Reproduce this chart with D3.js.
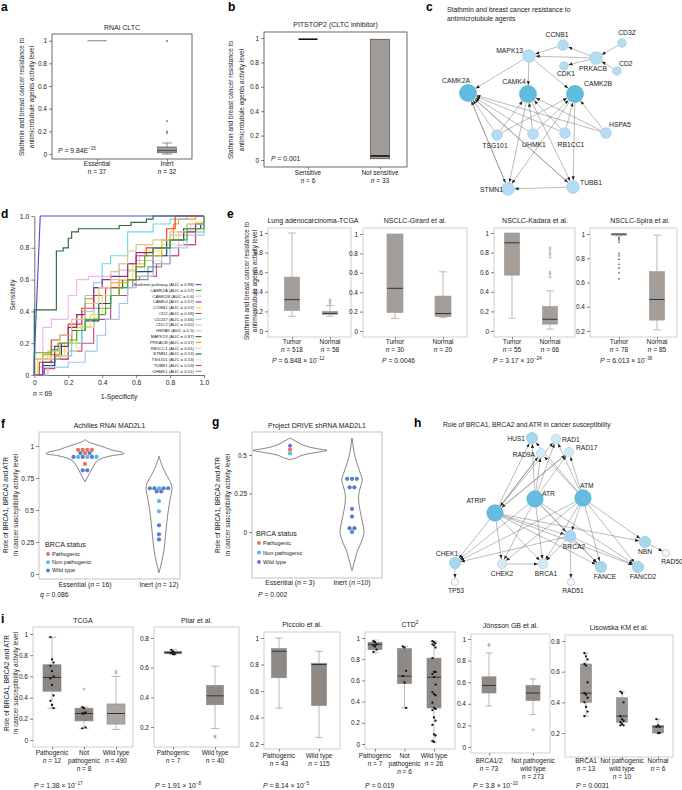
<!DOCTYPE html>
<html><head><meta charset="utf-8">
<script src="https://cdn.jsdelivr.net/npm/d3@7"></script>
<style>body{margin:0;background:#fff}svg{display:block}</style>
</head><body>
<script>
// ================= DATA =================
// Panel a
const aCats = ["Essential","Inert"];
const aLabels = [["Essential","*n* = 37"],["Inert","*n* = 32"]];
const aBoxes = [[1,1,1,1,1],[0.0,0.01,0.03,0.062,0.097]];
const aOutliers = [[],[0.997,0.29,0.2,0.185]];
const aTitle = "RNAi CLTC";
const aP = "*P* = 9.84E^{−15}";
// Panel b
const bCats = ["Sensitive","Not sensitive"];
const bLabels = [["Sensitive","*n* = 6"],["Not sensitive","*n* = 33"]];
const bBoxes = [[0.99,0.99,0.99,0.99,0.99],[0.01,0.01,0.033,0.99,0.99]];
const bTitle = "PITSTOP2 (CLTC inhibitor)";
const bP = "*P* = 0.001";
const stathminYLabel = ["Stathmin and breast cancer resistance to","antimicrotubule agents activity level"];
// Panel c network
const cTitle = ["Stathmin and breast cancer resistance to","antimicrotubule agents"];
const cNodes = ["CCNB1","CD3Z","MAPK13","PRKACB","CDK1","CD2","CAMK2A","CAMK4","CAMK2B","HSPA5","TSG101","UHMK1","RB1CC1","STMN1","TUBB1"];
const cEdges = [["CD3Z","PRKACB"],["CD2","PRKACB"],["PRKACB","CCNB1"],["PRKACB","CDK1"],["CCNB1","MAPK13"],["PRKACB","MAPK13"],
 ["MAPK13","CAMK2A"],["MAPK13","CAMK4"],["MAPK13","CAMK2B"],
 ["TSG101","CAMK2A"],["TSG101","CAMK4"],["TSG101","CAMK2B"],["UHMK1","CAMK2A"],["UHMK1","CAMK4"],["UHMK1","CAMK2B"],
 ["RB1CC1","CAMK2A"],["RB1CC1","CAMK4"],["RB1CC1","CAMK2B"],["HSPA5","CAMK2A"],["HSPA5","CAMK4"],["HSPA5","CAMK2B"],
 ["CAMK2A","STMN1"],["CAMK2A","TUBB1"],["CAMK4","STMN1"],["CAMK4","TUBB1"],["CAMK2B","STMN1"],["CAMK2B","TUBB1"],
 ["TUBB1","STMN1"],["STMN1","CAMK2A"],["TUBB1","CAMK2A"]];
// Panel d ROC
const rocNames = ["Stathmin pathway","CAMK2A","CAMK2B","CAMK4","CCNB1","CD2","CD247","CDC2","HSPA5","MAPK13","PRKACB","RB1CC1","STMN1","TSG101","TUBB1","UHMK1"];
const rocAUC = ["0.98","0.57","0.6","0.57","0.57","0.58","0.66","0.62","0.5","0.87","0.57","0.61","0.53","0.54","0.53","0.51"];
const rocCurves = [
 [[0,0],[0,0.1],[0.035,1],[1,1]],
 [[0,0],[0,0.14],[0.1,0.16],[0.14,0.2],[0.2,0.22],[0.25,0.28],[0.3,0.35],[0.38,0.38],[0.42,0.42],[0.45,0.5],[0.5,0.55],[0.55,0.6],[0.6,0.68],[0.65,0.75],[0.7,0.8],[0.8,0.85],[0.9,0.92],[1,1]],
 [[0,0],[0,0.1],[0.08,0.15],[0.15,0.25],[0.22,0.35],[0.3,0.45],[0.38,0.55],[0.45,0.65],[0.5,0.7],[0.55,0.78],[0.6,0.82],[0.7,0.85],[0.8,0.9],[0.9,0.95],[1,1]],
 [[0,0],[0.05,0.08],[0.12,0.18],[0.2,0.3],[0.25,0.38],[0.3,0.45],[0.35,0.55],[0.4,0.6],[0.45,0.62],[0.55,0.7],[0.6,0.77],[0.7,0.8],[0.8,0.85],[0.88,0.9],[0.95,0.95],[1,1]],
 [[0,0],[0.02,0.1],[0.1,0.12],[0.18,0.2],[0.25,0.3],[0.33,0.38],[0.4,0.5],[0.5,0.6],[0.58,0.7],[0.65,0.78],[0.75,0.85],[0.85,0.9],[0.95,0.96],[1,1]],
 [[0,0],[0.03,0.08],[0.1,0.22],[0.15,0.25],[0.2,0.32],[0.28,0.42],[0.35,0.5],[0.42,0.55],[0.5,0.6],[0.6,0.75],[0.66,0.8],[0.75,0.85],[0.78,0.92],[0.83,1.0],[1,1]],
 [[0,0],[0.05,0.1],[0.15,0.12],[0.22,0.2],[0.28,0.3],[0.3,0.5],[0.35,0.58],[0.4,0.7],[0.45,0.75],[0.55,0.9],[0.7,0.95],[0.8,0.98],[0.9,1],[1,1]],
 [[0,0],[0.02,0.05],[0.1,0.18],[0.2,0.3],[0.28,0.4],[0.35,0.5],[0.45,0.6],[0.5,0.66],[0.6,0.72],[0.7,0.8],[0.8,0.88],[0.9,0.95],[1,1]],
 [[0,0],[0.08,0.05],[0.2,0.08],[0.3,0.15],[0.37,0.25],[0.42,0.35],[0.5,0.45],[0.55,0.55],[0.6,0.62],[0.7,0.7],[0.8,0.8],[0.9,0.88],[1,1]],
 [[0,0],[0,0.41],[0.13,0.78],[0.17,0.8],[0.2,0.86],[0.22,0.9],[0.26,0.92],[0.5,0.94],[0.57,0.96],[0.66,0.98],[0.7,1.0],[1,1]],
 [[0,0],[0,0.1],[0.05,0.13],[0.15,0.2],[0.22,0.3],[0.25,0.38],[0.3,0.48],[0.35,0.55],[0.45,0.58],[0.55,0.7],[0.65,0.75],[0.75,0.85],[0.82,0.95],[0.85,0.98],[0.95,1],[1,1]],
 [[0,0],[0,0.1],[0.05,0.3],[0.1,0.35],[0.2,0.5],[0.25,0.6],[0.32,0.62],[0.5,0.7],[0.62,0.75],[0.75,0.8],[0.85,0.9],[0.92,0.95],[1,1]],
 [[0,0],[0.05,0.06],[0.12,0.12],[0.16,0.2],[0.22,0.28],[0.3,0.34],[0.38,0.45],[0.45,0.55],[0.52,0.6],[0.6,0.65],[0.7,0.75],[0.78,0.85],[0.88,0.92],[0.98,0.95],[1,1]],
 [[0,0],[0.05,0.12],[0.12,0.15],[0.25,0.3],[0.35,0.45],[0.45,0.55],[0.55,0.65],[0.65,0.72],[0.75,0.82],[0.88,0.9],[1,1]],
 [[0,0],[0.06,0.04],[0.12,0.1],[0.2,0.15],[0.28,0.2],[0.35,0.35],[0.45,0.5],[0.55,0.6],[0.62,0.62],[0.72,0.7],[0.8,0.75],[0.85,0.82],[0.95,0.95],[1,1]],
 [[0,0],[0.05,0.08],[0.12,0.1],[0.2,0.2],[0.28,0.3],[0.35,0.42],[0.42,0.5],[0.5,0.55],[0.58,0.6],[0.67,0.68],[0.75,0.75],[0.85,0.82],[0.95,0.9],[1,0.95]]
];
const rocTicks = [0,0.2,0.4,0.6,0.8,1];
const rocN = "*n* = 69";
// Panel e
const eTitles = ["Lung adenocarcinoma-TCGA","NSCLC-Girard et al.","NSCLC-Kadara et al.","NSCLC-Spira et al."];
const eCats = ["Tumor","Normal"];
const eN = [[518,58],[30,20],[55,66],[78,85]];
const eBoxes = [
 [[0.15,0.21,0.32,0.55,1.0],[0.15,0.17,0.18,0.2,0.26]],
 [[0.13,0.19,0.44,1.0,1.0],[0.14,0.15,0.18,0.36,0.61]],
 [[0.13,0.57,0.9,1.0,1.0],[0.02,0.07,0.12,0.25,0.41]],
 [[0.985,0.99,1.0,1.0,1.0],[0.21,0.29,0.46,0.69,0.99]]];
const eOutliers = [
 [[],[0.28,0.3,0.32]],
 [[],[]],
 [[],[0.55,0.58,0.6,0.75,0.78,0.8,0.83,0.85]],
 [[0.97,0.96,0.95,0.93,0.84,0.82,0.79,0.75,0.72,0.68,0.63],[]]];
const eP = ["*P* = 6.848 × 10^{−12}","*P* = 0.0046","*P* = 3.17 × 10^{−24}","*P* = 6.013 × 10^{−36}"];
// Panels f, g (violins)
const brcaStatus = ["Pathogenic","Non pathogenic","Wild type"];
const brcaYLabel = ["Role of BRCA1, BRCA2 and ATR","in cancer susceptibility activity level"];
const fCats = ["Essential","Inert"];
const fLabels = ["Essential (*n* = 16)","Inert (*n* = 12)"];
const fDensity = [
 [[0.72,0],[0.76,0.07],[0.8,0.14],[0.85,0.23],[0.88,0.3],[0.905,0.45],[0.925,0.7],[0.94,1],[0.955,0.9],[0.97,0.67],[0.99,0.5],[1.01,0.3],[1.03,0.1],[1.05,0]],
 [[0.01,0],[0.05,0.1],[0.1,0.22],[0.2,0.4],[0.3,0.5],[0.4,0.6],[0.5,0.72],[0.58,0.85],[0.64,0.97],[0.67,1],[0.71,0.92],[0.76,0.65],[0.82,0.35],[0.87,0.15],[0.92,0]]];
const fPoints = [
 [[0.97,"P"],[0.97,"P"],[0.97,"P"],[0.97,"P"],[0.945,"W"],[0.945,"P"],[0.945,"W"],[0.915,"W"],[0.915,"N"],[0.915,"W"],[0.915,"N"],[0.915,"W"],[0.86,"P"],[0.81,"W"],[0.81,"W"],[0.915,"N"]],
 [[0.67,"W"],[0.67,"W"],[0.67,"N"],[0.67,"W"],[0.67,"W"],[0.645,"W"],[0.645,"W"],[0.57,"N"],[0.49,"N"],[0.38,"W"],[0.31,"W"],[0.27,"W"]]];
const fTitle = "Achilles RNAi MAD2L1";
const fStat = "*q* = 0.086";
const gCats = ["Essential","Inert"];
const gLabels = ["Essential (*n* = 3)","Inert (*n* =10)"];
const gDensity = [
 [[0.47,0],[0.48,0.15],[0.5,0.35],[0.52,0.8],[0.53,1],[0.54,0.75],[0.56,0.4],[0.58,0.22],[0.6,0.08],[0.61,0]],
 [[-0.25,0],[-0.2,0.18],[-0.13,0.42],[-0.05,0.85],[0,1],[0.09,0.8],[0.17,0.6],[0.24,0.55],[0.29,0.7],[0.34,0.85],[0.38,0.7],[0.45,0.4],[0.52,0.17],[0.61,0]]];
const gPoints = [
 [[0.56,"W"],[0.535,"P"],[0.51,"N"]],
 [[0.345,"W"],[0.345,"W"],[0.345,"W"],[0.29,"W"],[0.29,"W"],[0.15,"W"],[0.1,"W"],[0.025,"W"],[0.025,"W"],[0.0,"W"]]];
const gTitle = "Project DRIVE shRNA MAD2L1";
const gStat = "*P* = 0.002";
// Panel h network
const hTitle = "Role of BRCA1, BRCA2 and ATR in cancer susceptibility";
const hNodes = ["HUS1","RAD1","RAD9A","RAD17","ATR","ATM","ATRIP","BRCA2","NBN","RAD50","CHEK1","TP53","CHEK2","BRCA1","FANCE","FANCD2","RAD51"];
const hEdges = [["ATRIP","HUS1"],["ATRIP","RAD1"],["ATRIP","RAD9A"],["ATRIP","RAD17"],["ATR","HUS1"],["ATR","RAD1"],["ATR","RAD9A"],["ATR","RAD17"],
 ["ATM","HUS1"],["ATM","RAD1"],["ATM","RAD9A"],["ATM","RAD17"],["RAD9A","ATRIP"],["RAD17","ATRIP"],
 ["ATRIP","CHEK1"],["ATRIP","CHEK2"],["ATRIP","BRCA1"],["ATRIP","BRCA2"],["ATRIP","FANCE"],["ATRIP","FANCD2"],["ATRIP","NBN"],
 ["ATR","CHEK1"],["ATR","CHEK2"],["ATR","BRCA1"],["ATR","BRCA2"],["ATR","FANCE"],["ATR","FANCD2"],
 ["ATM","CHEK1"],["ATM","CHEK2"],["ATM","BRCA1"],["ATM","BRCA2"],["ATM","NBN"],["ATM","FANCE"],["ATM","FANCD2"],
 ["BRCA2","FANCE"],["BRCA2","FANCD2"],["BRCA2","RAD51"],["BRCA2","BRCA1"],["BRCA2","CHEK1"],["CHEK2","BRCA1"],["CHEK1","TP53"],["NBN","RAD50"]];
// Panel i
const iTitles = ["TCGA","Pilar et al.","Piccolo et al.","CTD^{2}","Jönsson GB et al.","Lisowska KM et al."];
const iCats = [["Pathogenic","Not pathogenic","Wild type"],["Pathogenic","Wild type"],["Pathogenic","Wild type"],["Pathogenic","Not pathogenic","Wild type"],["BRCA1/2","Not pathogenic wild type"],["BRCA1","Not pathogenic wild type","Normal"]];
const iLabels = [
 [["Pathogenic","*n* = 12"],["Not","pathogenic","*n* = 8"],["Wild type","*n* = 490"]],
 [["Pathogenic","*n* = 7"],["Wild type","*n* = 40"]],
 [["Pathogenic","*n* = 43"],["Wild type","*n* = 115"]],
 [["Pathogenic","*n* = 7"],["Not","pathogenic","*n* = 6"],["Wild type","*n* = 26"]],
 [["BRCA1/2","*n* = 73"],["Not pathogenic","wild type","*n* = 273"]],
 [["BRCA1","*n* = 13"],["Not pathogenic","wild type","*n* = 10"],["Normal","*n* = 6"]]];
const iBoxes = [
 [[0.3,0.46,0.59,0.71,0.97],[0.11,0.18,0.25,0.3,0.31],[0.1,0.15,0.25,0.34,0.6]],
 [[0.69,0.695,0.7,0.71,0.72],[0.19,0.35,0.41,0.48,0.61]],
 [[0.47,0.7,0.9,0.92,1.0],[0.25,0.49,0.8,0.81,0.9]],
 [[0.86,0.89,0.94,0.96,0.98],[0.34,0.57,0.64,0.9,0.92],[0.02,0.34,0.63,0.81,0.97]],
 [[0.38,0.5,0.57,0.65,0.87],[0.3,0.43,0.5,0.57,0.63]],
 [[0.31,0.4,0.46,0.65,0.72],[0.25,0.27,0.31,0.43,0.47],[0.2,0.2,0.24,0.25,0.29]]];
const iOutliers = [
 [[],[0.48],[0.63,0.65]],
 [[],[0.13,0.14]],
 [[],[]],
 [[],[],[]],
 [[0.94,0.95],[0.16]],
 [[],[],[]]];
const iPoints = [
 [[0.97,0.76,0.73,0.7,0.65,0.6,0.58,0.52,0.42,0.37,0.33,0.3],[0.31,0.3,0.26,0.25,0.25,0.12,0.11],[]],
 [[0.72,0.71,0.7,0.7,0.69,0.69,0.7],[]],
 [[],[]],
 [[0.97,0.96,0.94,0.93,0.92,0.89,0.87],[0.92,0.91,0.69,0.64,0.58,0.34],
  [0.97,0.96,0.95,0.94,0.93,0.91,0.81,0.68,0.68,0.66,0.63,0.56,0.49,0.47,0.46,0.39,0.34,0.33,0.32,0.25,0.22,0.18,0.09,0.08,0.03,0.02]],
 [[],[]],
 [[0.72,0.7,0.68,0.65,0.64,0.53,0.46,0.45,0.43,0.4,0.37,0.34,0.31],[0.47,0.46,0.4,0.31,0.29,0.28,0.27,0.26,0.25,0.25],[0.29,0.25,0.24,0.24,0.2,0.2]]];
const iP = ["*P* = 1.38 × 10^{−17}","*P* = 1.91 × 10^{−8}","*P* = 8.14 × 10^{−5}","*P* = 0.019","*P* = 3.8 × 10^{−10}","*P* = 0.0031"];

// ================= LAYOUT / STYLE =================
const W = 682, H = 790;
const FONT = "'Liberation Sans', Arial, Helvetica, sans-serif";
const TXT = "#222";
const rocColors = ["#4b55c9","#3fae3a","#d6c68c","#8d2b9e","#f2dc4c","#e63a30","#6fd6e2","#c6c6c6","#a3c6ec","#2c6a3c","#ff9b00","#f3b8ea","#1d4d69","#cfeec0","#d3457d","#8f8f8f"];
const statusColor = {P:"#e8705e", N:"#58b6e4", W:"#5b7dcc"};

const svg = d3.select("body").append("svg").attr("width",W).attr("height",H)
  .attr("font-family",FONT);
svg.append("rect").attr("width",W).attr("height",H).attr("fill","#fff");
const defs = svg.append("defs");
defs.append("marker").attr("id","arr").attr("viewBox","0 0 10 10").attr("refX",10).attr("refY",5)
  .attr("markerUnits","userSpaceOnUse").attr("markerWidth",4).attr("markerHeight",4).attr("orient","auto")
  .append("path").attr("d","M0,1L10,5L0,9z").attr("fill","#222");

function rich(g, x, y, str, o = {}) {
  const size = o.size || 6.5;
  const t = g.append("text").attr("x", x).attr("y", y).attr("font-size", size)
    .attr("text-anchor", o.anchor || "start").attr("fill", o.fill || TXT);
  if (o.rotate) t.attr("transform", `rotate(-90,${x},${y})`);
  if (o.weight) t.attr("font-weight", o.weight);
  const parts = str.split(/(\*[^*]+\*|\^\{[^}]+\})/).filter(s => s.length);
  let raised = false;
  parts.forEach(p => {
    const ts = t.append("tspan");
    if (p.startsWith("^{")) {
      ts.text(p.slice(2, -1)).attr("font-size", size * 0.68).attr("dy", -size * 0.42);
      raised = true; return;
    }
    if (p.startsWith("*")) ts.text(p.slice(1, -1)).attr("font-style", "italic");
    else ts.text(p);
    if (raised) { ts.attr("dy", size * 0.42); raised = false; }
  });
  return t;
}
function letter(x, y, s) {
  svg.append("text").attr("x", x).attr("y", y).attr("font-size", 12).attr("font-weight", "bold").attr("fill", "#000").text(s);
}
function styleAxis(a, size) {
  a.attr("font-family", null).attr("font-size", null);
  a.selectAll(".tick line").attr("stroke", "#333").attr("stroke-width", 0.6);
  a.selectAll("text").attr("font-size", size || 6.5).attr("fill", TXT).attr("font-family", FONT);
}
function yLabel(lines, xs, cy, size) {
  lines.forEach((ln, k) => rich(svg, xs[k], cy, ln, {anchor: "middle", rotate: true, size: size || 6.5}));
}
const fmtNum = d => String(+d.toFixed(2));

function boxPanel(L, S, cats, labels, boxes, outliers, points, title, pval) {
  const g = svg.append("g");
  const [l, t, r, b] = L.frame;
  const y = d3.scaleLinear().domain(L.yd).range(L.yr);
  const x = d3.scalePoint().domain(cats).range(L.xr);
  g.append("rect").attr("x", l).attr("y", t).attr("width", r - l).attr("height", b - t)
    .attr("fill", "none").attr("stroke", S.frame).attr("stroke-width", S.frameW || 0.7);
  const ay = g.append("g").attr("transform", `translate(${l},0)`)
    .call(d3.axisLeft(y).tickValues(L.ticks).tickFormat(fmtNum).tickSize(3).tickPadding(2));
  ay.select(".domain").remove(); styleAxis(ay);
  const ax = g.append("g").attr("transform", `translate(0,${b})`)
    .call(d3.axisBottom(x).tickSize(2.5).tickFormat(""));
  ax.select(".domain").remove(); styleAxis(ax);
  cats.forEach((c, i) => {
    const [lo, q1, md, q3, hi] = boxes[i];
    const cx = x(c), w = L.bw;
    const wc = S.whisk, ww = S.whiskW;
    if (hi > q3) {
      g.append("line").attr("x1", cx).attr("x2", cx).attr("y1", y(hi)).attr("y2", y(q3)).attr("stroke", wc).attr("stroke-width", ww);
      g.append("line").attr("x1", cx - w * 0.25).attr("x2", cx + w * 0.25).attr("y1", y(hi)).attr("y2", y(hi)).attr("stroke", wc).attr("stroke-width", ww);
    }
    if (lo < q1) {
      g.append("line").attr("x1", cx).attr("x2", cx).attr("y1", y(q1)).attr("y2", y(lo)).attr("stroke", wc).attr("stroke-width", ww);
      g.append("line").attr("x1", cx - w * 0.25).attr("x2", cx + w * 0.25).attr("y1", y(lo)).attr("y2", y(lo)).attr("stroke", wc).attr("stroke-width", ww);
    }
    if (q3 > q1) {
      g.append("rect").attr("x", cx - w / 2).attr("y", y(q3)).attr("width", w).attr("height", y(q1) - y(q3))
        .attr("fill", S.fills ? S.fills[i] : S.fill).attr("stroke", S.boxStroke).attr("stroke-width", 0.6);
    }
    g.append("line").attr("x1", cx - w / 2).attr("x2", cx + w / 2).attr("y1", y(md)).attr("y2", y(md))
      .attr("stroke", S.meds ? S.meds[i] : S.med).attr("stroke-width", S.medWs ? S.medWs[i] : S.medW);
    (outliers[i] || []).forEach(v => {
      g.append("circle").attr("cx", cx).attr("cy", y(v)).attr("r", S.outR || 1)
        .attr("fill", S.outFill || "none").attr("stroke", S.outStroke || "#666").attr("stroke-width", 0.5);
    });
    ((points && points[i]) || []).forEach((v, k) => {
      g.append("circle").attr("cx", cx + ((k % 3) - 1) * 1.6).attr("cy", y(v)).attr("r", 1.15).attr("fill", "#111");
    });
    labels[i].forEach((ln, k) => rich(g, cx, L.labY + k * 8, ln, {anchor: "middle", size: 6.5}));
  });
  if (title) rich(g, L.titleX != null ? L.titleX : (l + r) / 2, L.titleY, title, {anchor: "middle", size: 7});
  if (pval) rich(g, L.pX, L.pY, pval, {size: 6.8});
}

function violinPanel(L, cats, labels, dens, pts, title, stat) {
  const g = svg.append("g");
  const [l, t, r, b] = L.frame;
  const y = d3.scaleLinear().domain(L.yd).range(L.yr);
  const x = d3.scalePoint().domain(cats).range(L.xr);
  g.append("rect").attr("x", l).attr("y", t).attr("width", r - l).attr("height", b - t)
    .attr("fill", "none").attr("stroke", "#a8a8a8").attr("stroke-width", 0.7);
  const ay = g.append("g").attr("transform", `translate(${l},0)`)
    .call(d3.axisLeft(y).tickValues(L.ticks).tickFormat(fmtNum).tickSize(3).tickPadding(2));
  ay.select(".domain").remove(); styleAxis(ay);
  cats.forEach((c, i) => {
    const cx = x(c);
    const wS = d3.scaleLinear().domain([0, 1]).range([0, L.maxW[i]]);
    const area = d3.area().y(d => y(d[0])).x0(d => cx - wS(d[1])).x1(d => cx + wS(d[1])).curve(d3.curveCatmullRom);
    g.append("path").attr("d", area(dens[i])).attr("fill", "none").attr("stroke", "#333").attr("stroke-width", 0.6);
    d3.groups(pts[i], d => d[0]).forEach(([v, arr]) => {
      arr.forEach((d, k) => {
        g.append("circle").attr("cx", cx + (k - (arr.length - 1) / 2) * L.sp).attr("cy", y(v)).attr("r", 2.1)
          .attr("fill", statusColor[d[1]]);
      });
    });
    rich(g, cx, L.labY, labels[i], {anchor: "middle", size: 6.8});
  });
  rich(g, (l + r) / 2, L.titleY, title, {anchor: "middle", size: 7});
  rich(g, L.sX, L.sY, stat, {size: 6.8});
  rich(g, L.legX, L.legY, "BRCA status", {size: 7.2});
  brcaStatus.forEach((s, k) => {
    const yy = L.legY + 9 + k * L.legDy;
    g.append("circle").attr("cx", L.legX + 3).attr("cy", yy - 2).attr("r", 1.9).attr("fill", statusColor["PNW"[k]]);
    rich(g, L.legX + 7, yy, s, {size: 5.6});
  });
}

function network(names, edges, pos, X, Y, nodeStyle, fontSize) {
  const g = svg.append("g");
  const P = {};
  names.forEach(n => { const p = pos[n]; P[n] = {x: X(p[0]), y: Y(p[1]), r: nodeStyle[p[2]].r, s: nodeStyle[p[2]], lab: p}; });
  edges.forEach(([s, t]) => {
    const a = P[s], c = P[t];
    const dx = c.x - a.x, dy = c.y - a.y, d = Math.hypot(dx, dy);
    const ux = dx / d, uy = dy / d;
    g.append("line").attr("x1", a.x + ux * a.r).attr("y1", a.y + uy * a.r)
      .attr("x2", c.x - ux * (c.r + 0.4)).attr("y2", c.y - uy * (c.r + 0.4))
      .attr("stroke", "#6a6a6a").attr("stroke-width", 0.45).attr("marker-end", "url(#arr)");
  });
  names.forEach(n => {
    const p = P[n];
    g.append("circle").attr("cx", p.x).attr("cy", p.y).attr("r", p.r).attr("fill", p.s.fill).attr("stroke", p.s.stroke).attr("stroke-width", 0.6);
  });
  names.forEach(n => {
    const p = P[n], lb = p.lab;
    rich(g, p.x + lb[3], p.y + lb[4], n, {anchor: lb[5], size: fontSize});
  });
}

// ---------- Panel a ----------
letter(1, 11, "a");
yLabel(stathminYLabel, [23.5, 34], 97);
boxPanel({frame: [52, 34, 192, 159], yd: [0, 1], yr: [154, 40.7], ticks: [0, 0.2, 0.4, 0.6, 0.8, 1], xr: [97, 167], bw: 19, labY: 166, titleY: 30, pX: 58, pY: 153},
  {frame: "#444", frameW: 0.8, whisk: "#444", whiskW: 0.6, fill: "#a09b97", boxStroke: "#555", meds: ["#9a9a9a", "#333"], medWs: [1.3, 0.8], outR: 0.7, outFill: "#666", outStroke: "#666"},
  aCats, aLabels, aBoxes, aOutliers, null, aTitle, aP);

// ---------- Panel b ----------
letter(228, 11, "b");
yLabel(stathminYLabel, [232.5, 243.5], 100);
boxPanel({frame: [264, 32, 407, 167], yd: [0, 1], yr: [160, 38], ticks: [0, 0.2, 0.4, 0.6, 0.8, 1], xr: [308, 380], bw: 19, labY: 175, titleY: 27, pX: 271, pY: 161},
  {frame: "#444", frameW: 0.8, whisk: "#444", whiskW: 0.6, fill: "#a19c98", boxStroke: "#333", med: "#111", medW: 1.6},
  bCats, bLabels, bBoxes, [[], []], null, bTitle, bP);

// ---------- Panel c ----------
letter(426, 11, "c");
cTitle.forEach((s, k) => rich(svg, 447, 11.5 + k * 9, s, {size: 6.8}));
const cX = d3.scaleLinear().domain([0, 200]).range([440, 640]);
const cY = d3.scaleLinear().domain([0, 170]).range([30, 200]);
const cStyle = {
  big: {r: 8.5, fill: "#5fbcdc", stroke: "#4aa6c9"},
  mid: {r: 6.3, fill: "#b5ddf1", stroke: "#8fc5e2"},
  small: {r: 5.3, fill: "#b5ddf1", stroke: "#8fc5e2"},
  tiny: {r: 4.3, fill: "#b5ddf1", stroke: "#8fc5e2"}};
// layout: [gx, gy, size, labelDx, labelDy, anchor]
const cPos = {
  CCNB1: [123, 15, "small", -6, -8, "middle"], CD3Z: [182, 13, "tiny", 5, -8, "middle"],
  MAPK13: [89, 26, "mid", -6, -3, "end"], PRKACB: [156, 28, "mid", -3, 13, "middle"],
  CDK1: [124, 36, "tiny", 2, 10, "middle"], CD2: [177, 41, "tiny", 2, -5.5, "start"],
  CAMK2A: [28, 63, "big", -12, -10, "middle"], CAMK4: [88, 64, "big", -14, -10, "middle"],
  CAMK2B: [135, 64, "big", 9, -8, "start"], HSPA5: [166, 103, "small", 3, -6.5, "start"],
  TSG101: [57, 105, "small", -2, 12.5, "middle"], UHMK1: [93, 104, "small", 1, 13, "middle"],
  RB1CC1: [125, 103, "small", 6, 14, "middle"], STMN1: [68, 159, "mid", -5, 3, "end"],
  TUBB1: [133, 157, "mid", 7, -2, "start"]};
network(cNodes, cEdges, cPos, cX, cY, cStyle, 6.8);

// ---------- Panel d ----------
letter(1, 218, "d");
(function () {
  const g = svg.append("g");
  const x = d3.scaleLinear().domain([0, 1]).range([34.3, 204]);
  const y = d3.scaleLinear().domain([0, 1]).range([375, 216]);
  const fmt = d => d === 0 ? "0" : d.toFixed(1);
  const ay = g.append("g").attr("transform", "translate(34.3,0)").call(d3.axisLeft(y).tickValues(rocTicks).tickFormat(fmt).tickSize(3).tickSizeOuter(0).tickPadding(2));
  const ax = g.append("g").attr("transform", "translate(0,375)").call(d3.axisBottom(x).tickValues(rocTicks).tickFormat(fmt).tickSize(3).tickSizeOuter(0).tickPadding(2));
  [ay, ax].forEach(a => { styleAxis(a, 6.8); a.select(".domain").attr("stroke", "#333").attr("stroke-width", 0.7); });
  for (let i = rocCurves.length - 1; i >= 0; i--) {
    const line = d3.line().x(d => x(d[0])).y(d => y(d[1])).curve(i === 0 ? d3.curveLinear : d3.curveStepAfter);
    g.append("path").attr("d", line(rocCurves[i])).attr("fill", "none").attr("stroke", rocColors[i]).attr("stroke-width", 1.15);
  }
  rocNames.forEach((n, i) => {
    const yy = 286 + i * 5.78;
    g.append("text").attr("x", 194).attr("y", yy).attr("text-anchor", "end").attr("font-size", 4.3).attr("fill", TXT)
      .text(`${n} (AUC = ${rocAUC[i]})`);
    g.append("line").attr("x1", 195.5).attr("x2", 201.5).attr("y1", yy - 1.4).attr("y2", yy - 1.4).attr("stroke", rocColors[i]).attr("stroke-width", 1.1);
  });
  rich(g, 14.5, 295, "Sensitivity", {anchor: "middle", rotate: true, size: 6.8});
  rich(g, 119, 399, "1-Specificity", {anchor: "middle", size: 6.8});
  rich(g, 33, 396, rocN, {size: 6.8});
})();

// ---------- Panel e ----------
letter(227, 218, "e");
yLabel(stathminYLabel, [248.5, 256.5], 281);
const eLayout = [
  {frame: [268, 228, 351, 337], yd: [0, 1], yr: [331, 233], ticks: [0, 0.2, 0.4, 0.6, 0.8, 1], xr: [292, 330], bw: 15, titleX: 313, pX: 272},
  {frame: [363, 228, 467, 337], yd: [0, 1], yr: [331, 234], ticks: [0, 0.2, 0.4, 0.6, 0.8, 1], xr: [395, 443], bw: 16, titleX: 415, pX: 382},
  {frame: [494, 228, 575, 337], yd: [0, 1], yr: [331, 233], ticks: [0, 0.2, 0.4, 0.6, 0.8, 1], xr: [512, 550], bw: 15, titleX: 535, pX: 493},
  {frame: [590, 228, 677, 337], yd: [0.2, 1], yr: [331, 234], ticks: [0.2, 0.4, 0.6, 0.8, 1], xr: [619, 657], bw: 15, titleX: 640, pX: 600}];
const eStyle = [
  {whisk: "#8a8a8a", whiskW: 0.6}, {whisk: "#8a8a8a", whiskW: 0.6},
  {whisk: "#cfcfcf", whiskW: 1.5}, {whisk: "#cfcfcf", whiskW: 1.5}];
eTitles.forEach((tt, k) => {
  const L = Object.assign({labY: 344, titleY: 223, pY: 363}, eLayout[k]);
  const S = Object.assign({frame: "#c4c4c4", frameW: 0.8, fill: "#a39e9a", boxStroke: "#9a9591", med: "#333", medW: 1, outR: 0.9, outStroke: "#777"}, eStyle[k]);
  if (k === 3) { S.outR = 0.6; S.outFill = "#555"; S.outStroke = "#555"; }
  const labels = eCats.map((c, i) => [c, `*n* = ${eN[k][i]}`]);
  boxPanel(L, S, eCats, labels, eBoxes[k], eOutliers[k], null, tt, eP[k]);
});

// ---------- Panel f ----------
letter(1, 428, "f");
yLabel(brcaYLabel, [7.5, 17.5], 505);
violinPanel({frame: [39, 432, 180, 579], yd: [0, 1], yr: [574, 446], ticks: [0, 0.25, 0.5, 0.75, 1], xr: [85, 159], maxW: [39, 13], sp: 4.6,
  labY: 587, titleY: 428, sX: 40, sY: 597, legX: 45, legY: 547, legDy: 8.2}, fCats, fLabels, fDensity, fPoints, fTitle, fStat);

// ---------- Panel g ----------
letter(212, 426, "g");
yLabel(brcaYLabel, [219.5, 229.5], 505);
violinPanel({frame: [252, 432, 382, 578], yd: [0, 0.5], yr: [532, 455], ticks: [0, 0.25, 0.5], xr: [290, 352], maxW: [37, 12], sp: 4.8,
  labY: 585, titleY: 428, sX: 258, sY: 597, legX: 256, legY: 536, legDy: 9.5}, gCats, gLabels, gDensity, gPoints, gTitle, gStat);

// ---------- Panel h ----------
letter(414, 427, "h");
rich(svg, 443, 427, hTitle, {size: 6.7});
const hX = d3.scaleLinear().domain([0, 240]).range([440, 680]);
const hY = d3.scaleLinear().domain([0, 170]).range([430, 600]);
const hStyle = {
  big: {r: 8.2, fill: "#62bde0", stroke: "#4ea9cd"},
  mid: {r: 5.6, fill: "#a9d6ef", stroke: "#86c0e0"},
  light: {r: 4.6, fill: "#d4ebf7", stroke: "#9fcbe4"},
  white: {r: 3.6, fill: "#f4fafd", stroke: "#9fbccc"}};
const hPos = {
  HUS1: [92, 8, "mid", -7, 3, "end"], RAD1: [116, 9, "light", 6, 2.5, "start"],
  RAD9A: [101, 23, "light", -6, 4, "end"], RAD17: [129, 22, "light", 7, -2, "start"],
  ATR: [95, 69, "big", 7, -3, "start"], ATM: [143, 68, "big", -3, -10, "start"],
  ATRIP: [55, 83, "big", -19, -10, "middle"], BRCA2: [130, 106, "mid", 4, 12.5, "middle"],
  NBN: [205, 112, "mid", 0, 12, "middle"], RAD50: [226, 123, "white", 6, 11, "middle"],
  CHEK1: [15, 133, "mid", -8, -7, "middle"], TP53: [15, 152, "white", 1, 10.5, "middle"],
  CHEK2: [62, 134, "light", 0, 11.5, "middle"], BRCA1: [103, 134, "light", 3, 11.5, "middle"],
  FANCE: [161, 137, "mid", 4, 11.5, "middle"], FANCD2: [198, 137, "mid", 5, 11.5, "middle"],
  RAD51: [131, 152, "white", 2, 11, "middle"]};
network(hNodes, hEdges, hPos, hX, hY, hStyle, 6.7);

// ---------- Panel i ----------
letter(1, 623, "i");
yLabel(brcaYLabel, [8.5, 17.5], 683);
const iLayout = [
  {frame: [33, 627, 133, 747], yd: [0, 1], yr: [740, 634], ticks: [0, 0.2, 0.4, 0.6, 0.8, 1], xr: [52, 116], bw: 18, titleY: 623, labY: 755, pX: 34},
  {frame: [154, 627, 239, 747], yd: [0.2, 0.8], yr: [727, 638], ticks: [0.2, 0.4, 0.6, 0.8], xr: [173, 215], bw: 17, titleY: 623, labY: 755, pX: 155},
  {frame: [264, 632, 340, 749], yd: [0.2, 1], yr: [744, 638], ticks: [0.2, 0.4, 0.6, 0.8, 1], xr: [279, 319], bw: 15, titleY: 627, labY: 758, pX: 263},
  {frame: [365, 632, 455, 749], yd: [0, 1], yr: [744, 638], ticks: [0, 0.2, 0.4, 0.6, 0.8, 1], xr: [375, 434], bw: 14, titleY: 627, labY: 758, pX: 365},
  {frame: [471, 634, 550, 753], yd: [0, 1], yr: [747, 639], ticks: [0, 0.2, 0.4, 0.6, 0.8, 1], xr: [489, 533], bw: 14, titleY: 628, labY: 763, pX: 473},
  {frame: [565, 635, 673, 757], yd: [0.2, 0.8], yr: [733, 641], ticks: [0.2, 0.4, 0.6, 0.8], xr: [586, 658], bw: 11, titleY: 630, labY: 763, pX: 576}];
const iFills = [["#8c8783", "#8c8783", "#aaa6a2"], ["#555", "#8e8985"], ["#8e8985", "#8e8985"], ["#8e8985", "#8e8985", "#8e8985"], ["#8e8985", "#8e8985"], ["#9a9592", "#9a9592", "#9a9592"]];
iTitles.forEach((tt, k) => {
  const L = Object.assign({pY: 788}, iLayout[k]);
  const S = {frame: "#c4c4c4", frameW: 0.8, fills: iFills[k], boxStroke: "#8a8580", med: "#333", medW: 1, whisk: "#8a8a8a", whiskW: 0.6, outR: 1, outStroke: "#777"};
  boxPanel(L, S, iCats[k], iLabels[k], iBoxes[k], iOutliers[k], iPoints[k], tt, iP[k]);
});
</script>
</body></html>
